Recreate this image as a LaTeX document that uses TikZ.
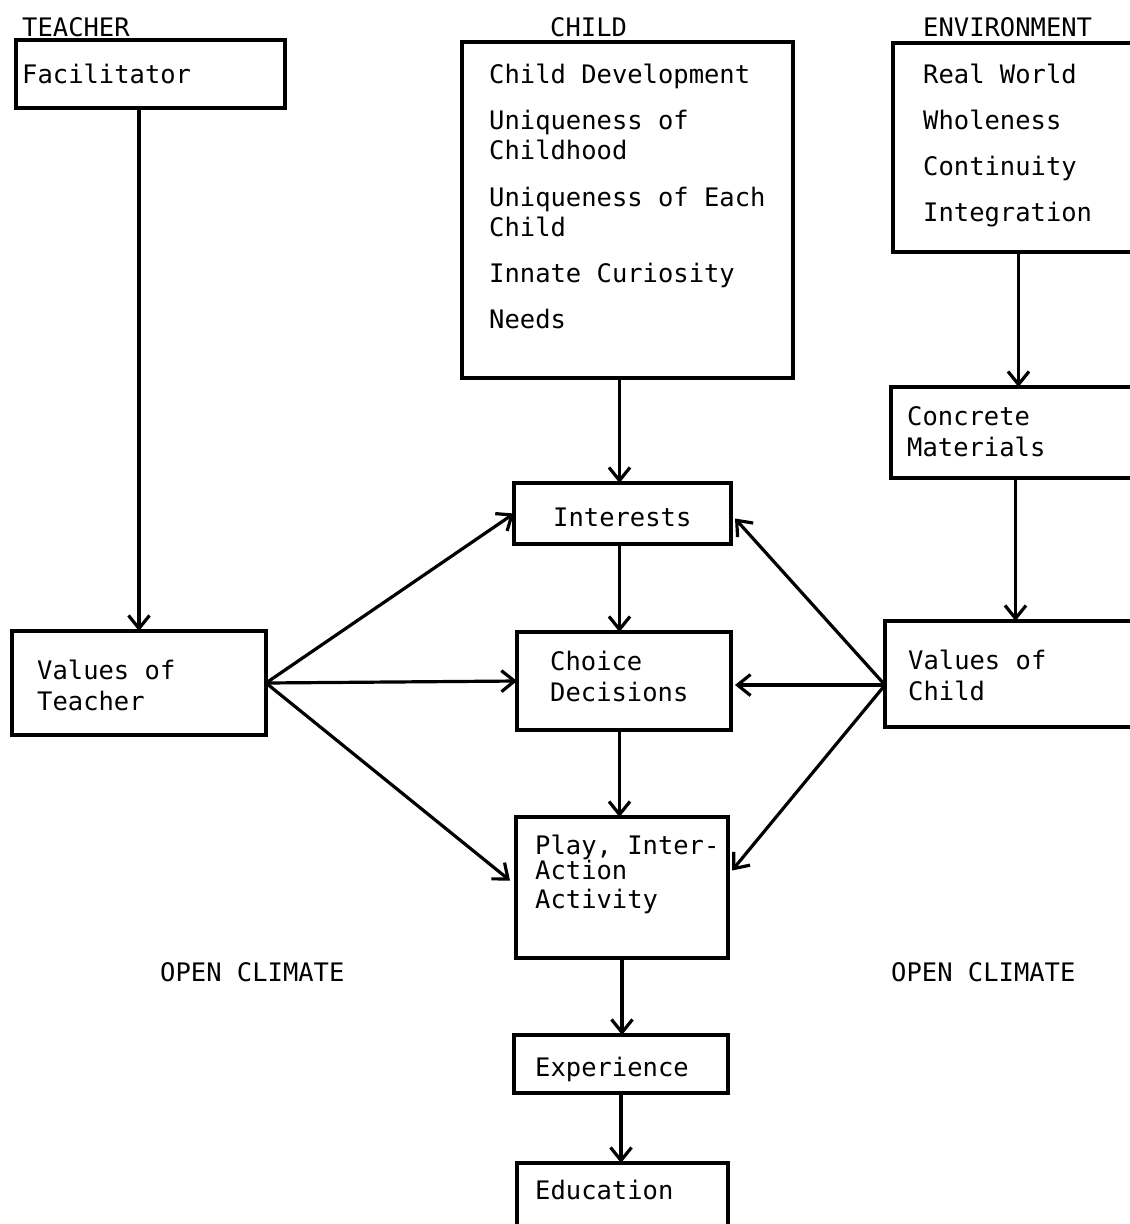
\documentclass[tikz,border=0pt]{standalone}
\usepackage{fontspec}
\setmonofont{DejaVu Sans Mono}
\usetikzlibrary{arrows.meta}
\begin{document}
\begin{tikzpicture}[x=1pt,y=-1pt,
  box/.style={draw, line width=3.8pt, inner sep=0pt, outer sep=0pt},
  lbl/.style={anchor=base west, inner sep=0pt, font=\fontsize{25.5}{30}\ttfamily},
  link/.style={line width=3.2pt, -{Straight Barb[length=13pt,width=21pt,line width=3.2pt]}}]
\clip (0,0) rectangle (1130,1224);

% column headings
\node[lbl] (hteach) at (22,36) {TEACHER};
\node[lbl] (hchild) at (550,36) {CHILD};
\node[lbl] (henv)   at (923,36) {ENVIRONMENT};

% boxes
\node[box, minimum width=269pt, minimum height=68pt]  (fac)   at (150.5,74)   {};
\node[box, minimum width=331pt, minimum height=336pt] (child) at (627.5,210)  {};
\node[box, minimum width=267pt, minimum height=209pt] (env)   at (1026.5,147.5) {};
\node[box, minimum width=269pt, minimum height=91pt]  (conc)  at (1025.5,432.5) {};
\node[box, minimum width=275pt, minimum height=106pt] (vc)    at (1022.5,674) {};
\node[box, minimum width=254pt, minimum height=104pt] (vt)    at (139,683)    {};
\node[box, minimum width=217pt, minimum height=61pt]  (int)   at (622.5,513.5) {};
\node[box, minimum width=214pt, minimum height=98pt]  (cho)   at (624,681)    {};
\node[box, minimum width=212pt, minimum height=141pt] (play)  at (622,887.5)  {};
\node[box, minimum width=214pt, minimum height=58pt]  (exp)   at (621,1064)   {};
\node[box, minimum width=211pt, minimum height=97pt]  (edu)   at (622.5,1211.5) {};

% box texts
\node[lbl] (tfac) at (22,83) {Facilitator};

\node[lbl] (c1) at (489,83)  {Child Development};
\node[lbl] (c2) at (489,129) {Uniqueness of};
\node[lbl] (c3) at (489,159) {Childhood};
\node[lbl] (c4) at (489,206) {Uniqueness of Each};
\node[lbl] (c5) at (489,236) {Child};
\node[lbl] (c6) at (489,282) {Innate Curiosity};
\node[lbl] (c7) at (489,328) {Needs};

\node[lbl] (e1) at (923,83)  {Real World};
\node[lbl] (e2) at (923,129) {Wholeness};
\node[lbl] (e3) at (923,175) {Continuity};
\node[lbl] (e4) at (923,221) {Integration};

\node[lbl] (m1) at (907,425) {Concrete};
\node[lbl] (m2) at (907,456) {Materials};

\node[lbl] (vc1) at (908,669) {Values of};
\node[lbl] (vc2) at (908,700) {Child};

\node[lbl] (vt1) at (37,679) {Values of};
\node[lbl] (vt2) at (37,710) {Teacher};

\node[lbl] (ti) at (553,526) {Interests};
\node[lbl] (ch1) at (550,670) {Choice};
\node[lbl] (ch2) at (550,701) {Decisions};
\node[lbl] (p1) at (535,854) {Play, Inter-};
\node[lbl] (p2) at (535,879) {Action};
\node[lbl] (p3) at (535,908) {Activity};
\node[lbl] (tx) at (535,1076) {Experience};
\node[lbl] (te) at (535,1199) {Education};

\node[lbl] (ocl) at (160,981) {OPEN CLIMATE};
\node[lbl] (ocr) at (891,981) {OPEN CLIMATE};

% vertical flow
\draw[link] (fac.south -| vt.north) -- (vt.north);
\draw[link] ([xshift=-3pt]child.south -| int.north) -- ([xshift=-3pt]int.north);
\draw[link] ([xshift=-8pt]env.south) -- ([xshift=-8pt]env.south |- conc.north);
\draw[link] ([xshift=-10pt]conc.south) -- ([xshift=-10pt]conc.south |- vc.north);
\draw[link] ([xshift=-3pt]int.south) -- ([xshift=-3pt]int.south |- cho.north);
\draw[link] ([xshift=-3pt]cho.south -| int.south) -- ([xshift=-3pt]int.south |- play.north);
\draw[link] (play.south) -- (play.south |- exp.north);
\draw[link] (exp.south) -- (exp.south |- edu.north);

% teacher values feed the child column
\draw[link] (vt.east) -- (int.west);
\draw[link] (vt.east) -- (cho.west);
\draw[link] (vt.east) -- ([xshift=-6pt,yshift=7pt]play.west);

% child values feed the child column
\draw[link] ([yshift=-11pt]vc.west) -- ([xshift=4pt,yshift=-5pt]int.east);
\draw[link] ([yshift=-11pt]vc.west) -- ([xshift=4pt,yshift=-4pt]cho.east);
\draw[link] ([yshift=-11pt]vc.west) -- ([xshift=4pt,yshift=17pt]play.east);
\end{tikzpicture}
\end{document}
